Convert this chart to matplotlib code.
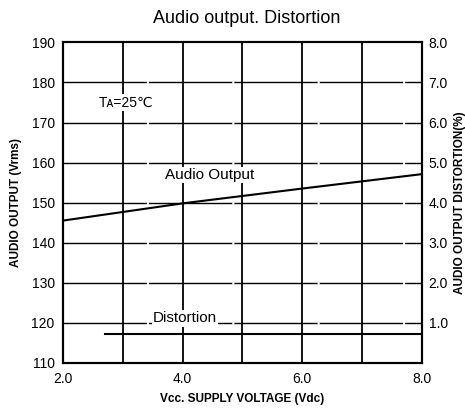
import matplotlib
matplotlib.use("Agg")
import matplotlib.pyplot as plt

# values
voltage = [2.0, 4.0, 6.0, 8.0]
audio_output = [145.5, 149.8, 153.5, 157.1]   # Vrms
dist_voltage = [2.7, 8.0]
distortion = [0.72, 0.72]                      # %

x_ticks = [2.0, 4.0, 6.0, 8.0]
x_labels = ["2.0", "4.0", "6.0", "8.0"]
y_ticks = [110, 120, 130, 140, 150, 160, 170, 180, 190]
d_ticks = [1.0, 2.0, 3.0, 4.0, 5.0, 6.0, 7.0, 8.0]
d_labels = ["1.0", "2.0", "3.0", "4.0", "5.0", "6.0", "7.0", "8.0"]

fam = ["Liberation Sans", "DejaVu Sans"]
plt.rcParams["font.family"] = fam

fig = plt.figure(figsize=(4.65, 4.08), dpi=100)
ax = fig.add_axes([0.1355, 0.111, 0.7715, 0.785])

ax.set_xlim(2, 8)
ax.set_ylim(110, 190)

# grid: vertical every 1 V, horizontal every 10 Vrms
for v in range(3, 8):
    ax.axvline(v, color="black", lw=1.3, zorder=1)
for y in y_ticks[1:-1]:
    ax.axhline(y, color="black", lw=1.0, dashes=(60, 1.5), zorder=1)

ax.plot(voltage, audio_output, color="black", lw=1.5, zorder=3)

ax.set_xticks(x_ticks)
ax.set_xticklabels(x_labels)
ax.set_yticks(y_ticks)
ax.tick_params(axis="x", length=0, pad=7, labelsize=10)
ax.tick_params(axis="y", length=0, pad=6, labelsize=10)
for s in ax.spines.values():
    s.set_linewidth(1.5)

ax2 = ax.twinx()
ax2.set_ylim(0, 8)
ax2.plot(dist_voltage, distortion, color="black", lw=1.5, zorder=3)
ax2.set_yticks(d_ticks)
ax2.set_yticklabels(d_labels)
ax2.tick_params(axis="y", length=0, pad=5, labelsize=10)
for s in ax2.spines.values():
    s.set_linewidth(1.5)

ax.set_xlabel("Vcc. SUPPLY VOLTAGE (Vdc)", fontsize=8.5, fontweight="bold", labelpad=5)
ax.set_ylabel("AUDIO OUTPUT (Vrms)", fontsize=8.5, fontweight="bold", labelpad=7)
ax2.set_ylabel("AUDIO OUTPUT DISTORTION(%)", fontsize=8.5, fontweight="bold", labelpad=4)

fig.suptitle("Audio output. Distortion", fontsize=13, x=0.53, y=0.975)

box = dict(facecolor="white", edgecolor="none", pad=1)
ax.text(2.6, 174.9, "Tᴀ=25℃", fontsize=10, va="center", ha="left", bbox=box, zorder=4)
ax.text(4.46, 156.9, "Audio Output", fontsize=11, va="center", ha="center", bbox=box, zorder=4)
ax.text(4.04, 121.1, "Distortion", fontsize=11, va="center", ha="center", bbox=box, zorder=4)

fig.savefig("out.png", dpi=100)
